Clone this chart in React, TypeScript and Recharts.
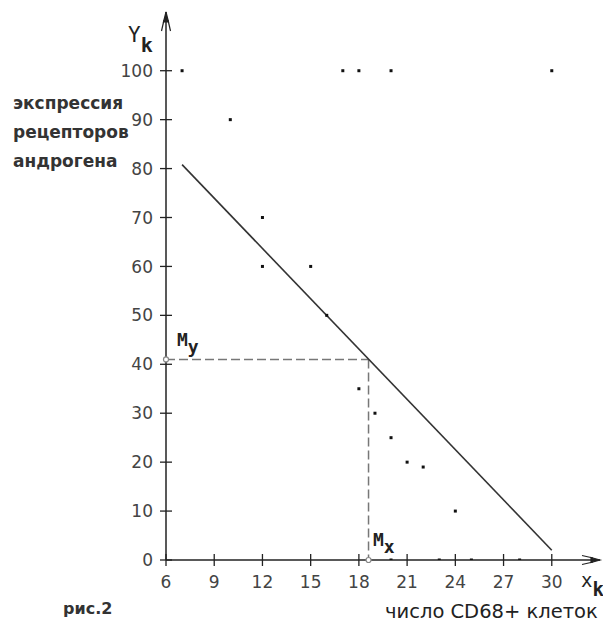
import React from "react";
import { ScatterChart, Scatter, XAxis, YAxis, ReferenceLine, ReferenceDot } from "recharts";

// число CD68+ клеток (x) / экспрессия рецепторов андрогена (y)
const cellsX = [7, 10, 12, 12, 15, 16, 17, 18, 20, 30, 18, 19, 20, 21, 22, 24, 20, 23, 25, 28];
const exprY = [100, 90, 70, 60, 60, 50, 100, 100, 100, 100, 35, 30, 25, 20, 19, 10, 0, 0, 0, 0];

// regression line ends
const lineX = [7, 30];
const lineY = [80.8, 2];

// means
const meanX = 18.6;
const meanY = 41;

const xTicks = [6, 9, 12, 15, 18, 21, 24, 27, 30];
const yTicks = [0, 10, 20, 30, 40, 50, 60, 70, 80, 90, 100];
const xDomain = [6, 33];
const yDomain = [0, 112];

const points = cellsX.map((x, i) => ({ x, y: exprY[i] }));

const AX = "#222";
const TXT = "#444";
const TICK_FONT = "'DejaVu Sans', sans-serif";

const YTick = (props: any) => {
  const { x, y, payload } = props;
  const axisX = x + 13;
  return (
    <g>
      <line x1={axisX} x2={axisX + 6} y1={y} y2={y} stroke={AX} strokeWidth={1.3} />
      <text x={x} y={y} dy="0.36em" textAnchor="end" fontFamily={TICK_FONT} fontSize={17} fill={TXT}>
        {payload.value}
      </text>
    </g>
  );
};

const XTick = (props: any) => {
  const { x, y, payload } = props;
  const axisY = y - 16;
  return (
    <g>
      <line x1={x} x2={x} y1={axisY} y2={axisY - 6} stroke={AX} strokeWidth={1.3} />
      <text x={x} y={y} dy="0.72em" textAnchor="middle" fontFamily={TICK_FONT} fontSize={17} fill={TXT}>
        {payload.value}
      </text>
    </g>
  );
};

const Dot = (props: any) => {
  const { cx, cy } = props;
  return <rect x={cx - 1.5} y={cy - 1.5} width={3} height={3} fill="#111" />;
};

const UpArrow = (props: any) => {
  const { cx, cy } = props;
  return (
    <g stroke={AX} fill={AX} strokeWidth={1.2}>
      <path d={`M${cx} ${cy} L${cx - 2.5} ${cy + 10} L${cx + 2.5} ${cy + 10} Z`} />
      <path d={`M${cx - 2} ${cy + 8} L${cx - 4.5} ${cy + 19}`} fill="none" />
      <path d={`M${cx + 2} ${cy + 8} L${cx + 4.5} ${cy + 19}`} fill="none" />
    </g>
  );
};

const RightArrow = (props: any) => {
  const { cx, cy } = props;
  return (
    <g stroke={AX} fill={AX} strokeWidth={1.2}>
      <path d={`M${cx} ${cy} L${cx - 9} ${cy - 2.5} L${cx - 9} ${cy + 2.5} Z`} />
      <path d={`M${cx - 7} ${cy - 2} L${cx - 18} ${cy - 4.5}`} fill="none" />
      <path d={`M${cx - 7} ${cy + 2} L${cx - 18} ${cy + 4.5}`} fill="none" />
    </g>
  );
};

const W = 600;
const H = 616;

export default function App() {
  return (
    <div style={{ position: "relative", width: W, height: H, background: "#fff" }}>
      <ScatterChart width={W} height={H} margin={{ top: 4, right: 8, bottom: 34, left: 98 }}>
        <XAxis
          type="number"
          dataKey="x"
          domain={xDomain}
          ticks={xTicks}
          allowDataOverflow
          height={30}
          tickSize={6}
          tickMargin={10}
          tick={<XTick />}
          axisLine={{ stroke: AX, strokeWidth: 1.5 }}
          tickLine={{ stroke: AX, strokeWidth: 1.3 }}
        />
        <YAxis
          type="number"
          dataKey="y"
          domain={yDomain}
          ticks={yTicks}
          allowDataOverflow
          width={60}
          tickSize={6}
          tickMargin={7}
          tick={<YTick />}
          axisLine={{ stroke: AX, strokeWidth: 1.5 }}
          tickLine={{ stroke: AX, strokeWidth: 1.3 }}
        />
        <ReferenceLine
          segment={[{ x: xDomain[0], y: meanY }, { x: meanX, y: meanY }]}
          stroke="#777"
          strokeWidth={1.5}
          strokeDasharray="9 4"
        />
        <ReferenceLine
          segment={[{ x: meanX, y: meanY }, { x: meanX, y: 0 }]}
          stroke="#777"
          strokeWidth={1.5}
          strokeDasharray="9 4"
        />
        <ReferenceLine
          segment={[{ x: lineX[0], y: lineY[0] }, { x: lineX[1], y: lineY[1] }]}
          stroke="#333"
          strokeWidth={1.6}
        />
        <Scatter data={points} shape={<Dot />} isAnimationActive={false} />
        <ReferenceDot x={xDomain[0]} y={meanY} r={2.5} fill="#fff" stroke="#888" strokeWidth={1.2} />
        <ReferenceDot x={meanX} y={0} r={2.5} fill="#fff" stroke="#888" strokeWidth={1.2} />
        <ReferenceDot x={xDomain[0]} y={yDomain[1]} shape={<UpArrow />} />
        <ReferenceDot x={xDomain[1]} y={yDomain[0]} shape={<RightArrow />} />
      </ScatterChart>
      <svg
        width={W}
        height={H}
        style={{ position: "absolute", left: 0, top: 0, pointerEvents: "none" }}
      >
        <g fontFamily="'DejaVu Sans Mono', monospace" fill="#222">
          <text x={120} y={34} fontSize={21}>
            Y<tspan dy={10} fontWeight="bold" fontSize={20}>k</tspan>
          </text>
          <text x={169} y={338} fontSize={18} fontWeight="bold">
            M<tspan dy={7}>y</tspan>
          </text>
          <text x={365} y={538} fontSize={18} fontWeight="bold">
            M<tspan dy={7}>x</tspan>
          </text>
          <text x={573} y={579} fontSize={19}>
            x<tspan dy={9} fontWeight="bold">k</tspan>
          </text>
        </g>
        <g fontFamily="'DejaVu Sans', sans-serif" fill="#333" fontWeight="bold" fontSize={17}>
          <text x={5} y={101}>экспрессия</text>
          <text x={5} y={130}>рецепторов</text>
          <text x={5} y={159}>андрогена</text>
          <text x={55} y={606} fontSize={16}>рис.2</text>
        </g>
        <text x={377} y={610} fontFamily="'DejaVu Sans', sans-serif" fontSize={19.5} fill="#222">
          число CD68+ клеток
        </text>
      </svg>
    </div>
  );
}
